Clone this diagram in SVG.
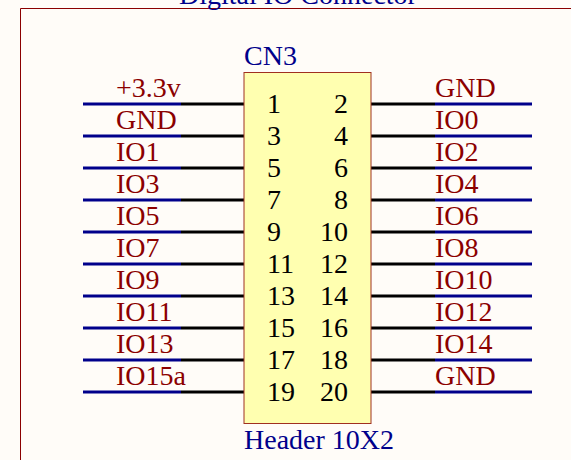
<svg xmlns="http://www.w3.org/2000/svg" width="571" height="460" viewBox="0 0 571 460">
<style>
text{font-family:"Liberation Serif","Times New Roman",serif;font-size:28px}
.net{fill:#8b0000}
.des{fill:#00008b}
.num{fill:#000000}
.end{text-anchor:end}
.w{stroke:#00008b;stroke-width:3;fill:none}
.p{stroke:#000000;stroke-width:3;fill:none}
</style>
<rect width="571" height="460" fill="#fffcf8"/>
<path d="M571 8.500H20.500V460" fill="none" stroke="#8b0000" stroke-width="1"/>
<text id="title" class="des" x="179" y="4">Digital IO Connector</text>
<g id="connectors">
<path class="p" d="M181 104H246M181 136H246M181 168H246M181 200H246M181 232H246M181 264H246M181 296H246M181 328H246M181 360H246M181 392H246"/>
<path class="w" d="M83 104H181M83 136H181M83 168H181M83 200H181M83 232H181M83 264H181M83 296H181M83 328H181M83 360H181M83 392H181"/>
<path class="p" d="M370 104H435M370 136H435M370 168H435M370 200H435M370 232H435M370 264H435M370 296H435M370 328H435M370 360H435M370 392H435"/>
<path class="w" d="M435 104H532M435 136H532M435 168H532M435 200H532M435 232H532M435 264H532M435 296H532M435 328H532M435 360H532M435 392H532"/>
</g>
<g id="CN3">
<rect x="244" y="72.500" width="127" height="351" fill="#ffffb0" stroke="#a03020" stroke-width="1"/>
<text class="des" x="244" y="65">CN3</text>
<text class="des" x="244" y="449">Header 10X2</text>
<g class="num">
<text x="267" y="113">1</text><text x="267" y="145">3</text><text x="267" y="177">5</text><text x="267" y="209">7</text><text x="267" y="241">9</text>
<text x="267" y="273">11</text><text x="267" y="305">13</text><text x="267" y="337">15</text><text x="267" y="369">17</text><text x="267" y="401">19</text>
<text class="end" x="348" y="113">2</text><text class="end" x="348" y="145">4</text><text class="end" x="348" y="177">6</text><text class="end" x="348" y="209">8</text><text class="end" x="348" y="241">10</text>
<text class="end" x="348" y="273">12</text><text class="end" x="348" y="305">14</text><text class="end" x="348" y="337">16</text><text class="end" x="348" y="369">18</text><text class="end" x="348" y="401">20</text>
</g>
</g>
<g id="net-labels-left" class="net">
<text x="116" y="97">+3.3v</text><text x="116" y="129">GND</text><text x="116" y="161">IO1</text><text x="116" y="193">IO3</text><text x="116" y="225">IO5</text>
<text x="116" y="257">IO7</text><text x="116" y="289">IO9</text><text x="116" y="321">IO11</text><text x="116" y="353">IO13</text><text x="116" y="385">IO15a</text>
</g>
<g id="net-labels-right" class="net">
<text x="435" y="97">GND</text><text x="435" y="129">IO0</text><text x="435" y="161">IO2</text><text x="435" y="193">IO4</text><text x="435" y="225">IO6</text>
<text x="435" y="257">IO8</text><text x="435" y="289">IO10</text><text x="435" y="321">IO12</text><text x="435" y="353">IO14</text><text x="435" y="385">GND</text>
</g>
</svg>
